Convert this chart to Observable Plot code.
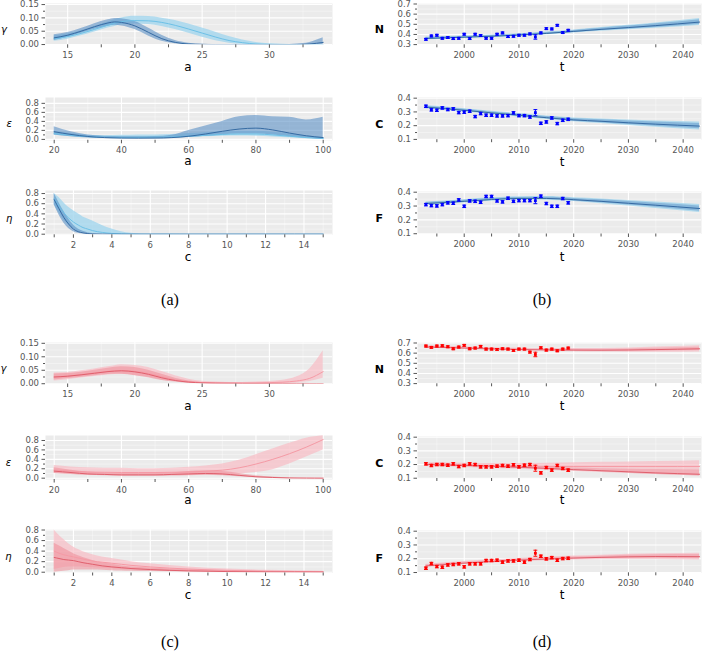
<!DOCTYPE html>
<html><head><meta charset="utf-8">
<script src="https://cdn.jsdelivr.net/npm/d3@7"></script>
<script src="https://cdn.jsdelivr.net/npm/@observablehq/plot@0.6"></script>
<style>
body{margin:0;background:#fff}
#fig{position:relative;width:708px;height:651px;overflow:hidden;font-family:"DejaVu Sans",sans-serif}
#fig svg{position:absolute}
</style></head><body><div id="fig"></div><script>
// ---------------- data ----------------
const gammaAges = [14,15,16,17,18,18.5,19,20,21,22,23,24,25,26,27,28,29,30,31,32,33,34];
const epsAges = [20,25,30,35,40,45,50,55,60,65,70,75,80,85,90,95,100];
const etaC = [1,1.25,1.5,1.75,2,2.25,2.5,2.75,3,3.5,4,4.5,5,6,8,10,12,15];

// (a) blue
const gB_darkMid = [0.025,0.035,0.05,0.067,0.081,0.085,0.083,0.07,0.046,0.022,0.008,0.002,0.0005,0,0,0,0,0,0,0,0.002,0.008];
const gB_darkLo  = [0.015,0.027,0.042,0.057,0.069,0.072,0.07,0.056,0.032,0.012,0.003,0.0005,0,0,0,0,0,0,0,0,0,0];
const gB_darkHi  = [0.037,0.045,0.06,0.078,0.093,0.098,0.097,0.086,0.062,0.035,0.015,0.005,0.001,0,0,0,0,0,0,0.002,0.008,0.025];
const gB_lightMid= [0.022,0.03,0.042,0.057,0.073,0.08,0.086,0.09,0.089,0.083,0.072,0.058,0.043,0.028,0.015,0.007,0.002,0.0005,0,0,0,0];
const gB_lightLo = [0.012,0.02,0.033,0.047,0.062,0.068,0.074,0.077,0.075,0.068,0.056,0.042,0.027,0.014,0.005,0.001,0,0,0,0,0,0];
const gB_lightHi = [0.032,0.04,0.052,0.068,0.085,0.093,0.1,0.106,0.105,0.099,0.09,0.077,0.062,0.046,0.03,0.017,0.008,0.003,0.001,0,0,0];

const eB_darkMid = [0.17,0.11,0.065,0.04,0.03,0.028,0.03,0.04,0.07,0.12,0.18,0.23,0.25,0.21,0.14,0.08,0.04];
const eB_darkLo  = [0.1,0.06,0.03,0.02,0.015,0.013,0.015,0.02,0.04,0.07,0.1,0.12,0.12,0.1,0.06,0.03,0.0];
const eB_darkHi  = [0.28,0.17,0.1,0.07,0.06,0.058,0.062,0.09,0.2,0.3,0.4,0.5,0.53,0.5,0.49,0.43,0.49];
const eB_lightMid= [0.13,0.09,0.06,0.05,0.045,0.045,0.05,0.055,0.07,0.09,0.11,0.12,0.12,0.1,0.07,0.04,0.02];
const eB_lightLo = [0.09,0.06,0.04,0.03,0.03,0.03,0.035,0.04,0.05,0.06,0.07,0.075,0.07,0.055,0.035,0.015,0.0];
const eB_lightHi = [0.18,0.13,0.09,0.08,0.09,0.1,0.1,0.11,0.13,0.15,0.17,0.18,0.18,0.16,0.12,0.08,0.05];

const hB_darkMid = [0.68,0.5,0.33,0.2,0.1,0.05,0.025,0.012,0.005,0.001,0,0,0,0,0,0,0,0];
const hB_darkLo  = [0.58,0.38,0.22,0.11,0.05,0.02,0.008,0.003,0.001,0,0,0,0,0,0,0,0,0];
const hB_darkHi  = [0.8,0.62,0.45,0.3,0.18,0.1,0.06,0.03,0.015,0.004,0.001,0,0,0,0,0,0,0];
const hB_lightMid= [0.7,0.55,0.42,0.32,0.24,0.18,0.13,0.1,0.07,0.035,0.015,0.006,0.002,0,0,0,0,0];
const hB_lightLo = [0.58,0.42,0.28,0.18,0.1,0.06,0.035,0.02,0.01,0.003,0.001,0,0,0,0,0,0,0];
const hB_lightHi = [0.8,0.72,0.62,0.53,0.46,0.4,0.34,0.3,0.26,0.17,0.1,0.05,0.02,0.003,0,0,0,0];

// (c) pink
const gR_darkMid = [0.025,0.028,0.033,0.039,0.045,0.047,0.048,0.044,0.035,0.022,0.012,0.006,0.003,0.002,0.0015,0.001,0.001,0.001,0.001,0.0005,0.0003,0.0002];
const gR_darkLo  = [0.014,0.019,0.024,0.03,0.034,0.035,0.035,0.03,0.022,0.012,0.006,0.002,0.001,0,0,0,0,0,0,0,0,0];
const gR_darkHi  = [0.036,0.038,0.043,0.05,0.057,0.061,0.063,0.06,0.05,0.035,0.02,0.01,0.005,0.003,0.002,0.002,0.002,0.002,0.002,0.0015,0.001,0.001];
const gR_lightMid= [0.025,0.028,0.034,0.04,0.046,0.048,0.049,0.046,0.038,0.026,0.015,0.008,0.004,0.003,0.003,0.003,0.003,0.004,0.006,0.01,0.02,0.045];
const gR_lightLo = [0.01,0.015,0.021,0.027,0.032,0.034,0.035,0.031,0.024,0.014,0.007,0.003,0.001,0,0,0,0,0,0.001,0.003,0.008,0.02];
const gR_lightHi = [0.04,0.042,0.048,0.055,0.063,0.067,0.07,0.068,0.06,0.045,0.03,0.017,0.009,0.006,0.005,0.005,0.006,0.008,0.013,0.025,0.055,0.122];

const eR_darkMid = [0.15,0.12,0.09,0.08,0.07,0.07,0.07,0.08,0.09,0.1,0.09,0.06,0.03,0.015,0.005,0.002,0.0];
const eR_darkLo  = [0.1,0.08,0.06,0.05,0.04,0.04,0.04,0.045,0.05,0.06,0.05,0.03,0.01,0.005,0,0,0];
const eR_darkHi  = [0.22,0.17,0.13,0.11,0.1,0.1,0.1,0.11,0.14,0.15,0.14,0.1,0.05,0.025,0.01,0.004,0.002];
const eR_lightMid= [0.17,0.15,0.13,0.125,0.12,0.12,0.12,0.125,0.13,0.15,0.17,0.22,0.3,0.4,0.52,0.66,0.82];
const eR_lightLo = [0.1,0.085,0.07,0.065,0.06,0.06,0.06,0.06,0.06,0.065,0.07,0.09,0.12,0.18,0.3,0.45,0.6];
const eR_lightHi = [0.27,0.24,0.22,0.21,0.21,0.2,0.2,0.21,0.23,0.26,0.3,0.38,0.5,0.62,0.74,0.85,0.9];

const hR_darkMid = [0.28,0.26,0.24,0.23,0.22,0.2,0.18,0.165,0.15,0.12,0.1,0.085,0.07,0.05,0.025,0.012,0.006,0.002];
const hR_darkLo  = [0.0,0.01,0.02,0.03,0.04,0.04,0.04,0.04,0.04,0.035,0.03,0.025,0.02,0.015,0.005,0.002,0.001,0];
const hR_darkHi  = [0.55,0.5,0.45,0.4,0.35,0.31,0.28,0.25,0.22,0.18,0.15,0.12,0.1,0.08,0.045,0.025,0.012,0.005];
const hR_lightMid= [0.4,0.36,0.33,0.31,0.29,0.27,0.25,0.23,0.21,0.19,0.17,0.15,0.13,0.1,0.06,0.035,0.02,0.01];
const hR_lightLo = [0.05,0.07,0.09,0.1,0.1,0.1,0.095,0.09,0.085,0.075,0.065,0.05,0.04,0.03,0.015,0.006,0.002,0];
const hR_lightHi = [0.8,0.7,0.62,0.54,0.48,0.43,0.39,0.36,0.33,0.29,0.26,0.23,0.2,0.16,0.1,0.06,0.035,0.02];

// observations (b, d)
const years = [1993,1994,1995,1996,1997,1998,1999,2000,2001,2002,2003,2004,2005,2006,2007,2008,2009,2010,2011,2012,2013,2014,2015,2016,2017,2018,2019];
const obsErr = [0.009,0.009,0.009,0.009,0.009,0.009,0.009,0.009,0.009,0.009,0.009,0.009,0.009,0.009,0.009,0.009,0.009,0.009,0.009,0.009,0.022,0.009,0.009,0.009,0.009,0.009,0.009];
const nBlue = [0.352,0.385,0.392,0.362,0.369,0.359,0.362,0.402,0.359,0.402,0.389,0.362,0.362,0.402,0.415,0.379,0.382,0.392,0.392,0.405,0.375,0.415,0.457,0.454,0.49,0.418,0.441];
const cBlue = [0.341,0.315,0.312,0.329,0.317,0.322,0.295,0.298,0.305,0.266,0.288,0.276,0.276,0.271,0.271,0.273,0.293,0.273,0.273,0.263,0.295,0.217,0.227,0.256,0.215,0.239,0.246];
const fBlue = [0.31,0.303,0.301,0.31,0.323,0.32,0.344,0.298,0.337,0.334,0.327,0.369,0.369,0.337,0.33,0.356,0.334,0.339,0.339,0.339,0.339,0.371,0.318,0.298,0.298,0.354,0.323];
const nRed = [0.67,0.657,0.67,0.673,0.663,0.643,0.66,0.677,0.643,0.65,0.667,0.64,0.64,0.637,0.643,0.64,0.627,0.64,0.64,0.61,0.587,0.653,0.63,0.64,0.623,0.64,0.65];
const cRed = [0.205,0.193,0.2,0.2,0.195,0.205,0.185,0.193,0.205,0.2,0.183,0.183,0.183,0.188,0.193,0.188,0.198,0.183,0.195,0.2,0.173,0.139,0.178,0.159,0.193,0.171,0.159];
const fRed = [0.131,0.165,0.143,0.138,0.155,0.158,0.163,0.141,0.163,0.163,0.163,0.187,0.187,0.189,0.175,0.184,0.184,0.189,0.175,0.194,0.24,0.218,0.199,0.208,0.189,0.201,0.203];

// projections (b, d)
const projYears = [1993,2000,2005,2010,2015,2020,2025,2030,2035,2043];
const pNB_mid = [0.36,0.373,0.382,0.394,0.41,0.43,0.45,0.468,0.487,0.522];
const pNB_dLo = [0.352,0.366,0.375,0.387,0.402,0.42,0.438,0.453,0.469,0.498];
const pNB_dHi = [0.368,0.38,0.389,0.401,0.418,0.44,0.462,0.483,0.505,0.546];
const pNB_lLo = [0.346,0.361,0.37,0.382,0.397,0.415,0.432,0.446,0.461,0.488];
const pNB_lHi = [0.374,0.385,0.394,0.406,0.423,0.445,0.468,0.49,0.513,0.556];
const pCB_mid = [0.335,0.312,0.293,0.276,0.258,0.242,0.232,0.221,0.211,0.197];
const pCB_dLo = [0.328,0.305,0.286,0.269,0.25,0.233,0.221,0.208,0.196,0.178];
const pCB_dHi = [0.342,0.319,0.3,0.283,0.266,0.251,0.243,0.234,0.226,0.216];
const pCB_lLo = [0.323,0.3,0.281,0.264,0.245,0.228,0.215,0.201,0.188,0.168];
const pCB_lHi = [0.347,0.324,0.305,0.288,0.271,0.256,0.249,0.241,0.234,0.226];
const pFB_mid = [0.318,0.334,0.347,0.355,0.355,0.346,0.334,0.32,0.306,0.282];
const pFB_dLo = [0.311,0.327,0.34,0.348,0.347,0.337,0.323,0.307,0.291,0.263];
const pFB_dHi = [0.325,0.341,0.354,0.362,0.363,0.355,0.345,0.333,0.321,0.301];
const pFB_lLo = [0.306,0.322,0.335,0.343,0.342,0.332,0.317,0.3,0.283,0.253];
const pFB_lHi = [0.33,0.346,0.359,0.367,0.368,0.36,0.351,0.34,0.329,0.311];
const pNR_mid = [0.66,0.65,0.642,0.636,0.632,0.63,0.629,0.631,0.635,0.643];
const pNR_dLo = [0.654,0.644,0.636,0.63,0.625,0.622,0.62,0.62,0.622,0.627];
const pNR_dHi = [0.666,0.656,0.648,0.642,0.639,0.638,0.638,0.642,0.648,0.659];
const pNR_lLo = [0.648,0.638,0.63,0.623,0.618,0.614,0.611,0.61,0.61,0.612];
const pNR_lHi = [0.672,0.662,0.654,0.649,0.646,0.646,0.647,0.652,0.66,0.674];
const pCR_mid = [0.2,0.193,0.187,0.18,0.172,0.163,0.155,0.147,0.139,0.129];
const pCR_dLo = [0.194,0.187,0.181,0.173,0.164,0.154,0.145,0.136,0.127,0.116];
const pCR_dHi = [0.206,0.2,0.194,0.188,0.182,0.175,0.17,0.166,0.163,0.16];
const pCR_lMid= [0.2,0.195,0.191,0.188,0.186,0.186,0.186,0.186,0.186,0.186];
const pCR_lLo = [0.185,0.178,0.172,0.165,0.158,0.15,0.142,0.135,0.127,0.116];
const pCR_lHi = [0.215,0.21,0.207,0.208,0.21,0.213,0.216,0.219,0.222,0.228];
const pFR_mid = [0.148,0.168,0.18,0.19,0.198,0.205,0.21,0.214,0.216,0.215];
const pFR_dLo = [0.142,0.162,0.174,0.184,0.191,0.197,0.201,0.203,0.203,0.2];
const pFR_dHi = [0.154,0.174,0.186,0.196,0.205,0.213,0.219,0.225,0.229,0.23];
const pFR_lLo = [0.136,0.156,0.168,0.178,0.185,0.19,0.194,0.195,0.195,0.19];
const pFR_lHi = [0.16,0.18,0.192,0.202,0.211,0.22,0.226,0.233,0.237,0.24];

// ticks
const gTicks = [15,20,25,30], gMinor = [17.5,22.5,27.5,32.5];
const eTicks = [20,40,60,80,100], eMinor = [30,50,70,90];
const cTicks = [2,4,6,8,10,12,14], cMinor = [1,3,5,7,9,11,13,15];
const tTicks = [2000,2010,2020,2030,2040], tMinor = [1995,2005,2015,2025,2035];
const gyTicks = [0,0.05,0.10,0.15], gyMinor = [0.025,0.075,0.125];
const eyTicks = [0,0.2,0.4,0.6,0.8], eyMinor = [0.1,0.3,0.5,0.7];
const nyTicks = [0.3,0.4,0.5,0.6,0.7], nyMinor = [0.35,0.45,0.55,0.65];
const cyTicks = [0.1,0.2,0.3,0.4], cyMinor = [0.15,0.25,0.35];

// ---------------- drawing ----------------
const BLUE = {light:"#a3d6ee", lightOp:0.8, dark:"#5a8fc4", darkOp:0.6, lineD:"#356aa3", lineL:"#6cc0e6", pt:"#0000ff"};
const PINK = {light:"#f8bcc4", lightOp:0.7, dark:"#ee8d98", darkOp:0.55, lineD:"#e0606d", lineL:"#f59aa5", pt:"#ff0000"};
const fig = document.getElementById("fig");
const f2 = d3.format(".2f"), f1 = d3.format(".1f"), fi = d3.format("d");

function rows(xs, lo, mid, hi){ return xs.map((x,i)=>({x, lo:lo[i], mid:mid[i], hi:hi[i]})); }

function curveMarks(xs, c, dLo, dMid, dHi, lLo, lMid, lHi){
  const d = rows(xs, dLo, dMid, dHi), l = rows(xs, lLo, lMid, lHi);
  return [
    Plot.areaY(l, {x:"x", y1:"lo", y2:"hi", fill:c.light, fillOpacity:c.lightOp, curve:"monotone-x", clip:true}),
    Plot.areaY(d, {x:"x", y1:"lo", y2:"hi", fill:c.dark, fillOpacity:c.darkOp, curve:"monotone-x", clip:true}),
    Plot.lineY(l, {x:"x", y:"mid", stroke:c.lineL, strokeWidth:1, curve:"monotone-x", clip:true}),
    Plot.lineY(d, {x:"x", y:"mid", stroke:c.lineD, strokeWidth:1, curve:"monotone-x", clip:true})
  ];
}

function tsMarks(c, vals, mid, dLo, dHi, lLo, lHi, lMid){
  const obs = years.map((t,i)=>({t, v:vals[i], e:obsErr[i]}));
  const pr = projYears.map((t,i)=>({t, mid:mid[i], dLo:dLo[i], dHi:dHi[i], lLo:lLo[i], lHi:lHi[i], lMid: lMid ? lMid[i] : null}));
  const m = [
    Plot.areaY(pr, {x:"t", y1:"lLo", y2:"lHi", fill:c.light, fillOpacity:c.lightOp, curve:"monotone-x"}),
    Plot.areaY(pr, {x:"t", y1:"dLo", y2:"dHi", fill:c.dark, fillOpacity:c.darkOp*0.8, curve:"monotone-x"})
  ];
  if (lMid) m.push(Plot.lineY(pr, {x:"t", y:"lMid", stroke:c.lineL, strokeWidth:1, curve:"monotone-x"}));
  m.push(
    Plot.lineY(pr, {x:"t", y:"mid", stroke:c.lineD, strokeWidth:1, curve:"monotone-x"}),
    Plot.ruleX(obs, {x:"t", y1:d=>d.v-d.e, y2:d=>d.v+d.e, stroke:c.pt, strokeWidth:1}),
    Plot.link(obs, {x1:d=>d.t-0.35, x2:d=>d.t+0.35, y1:d=>d.v-d.e, y2:d=>d.v-d.e, stroke:c.pt, strokeWidth:1}),
    Plot.link(obs, {x1:d=>d.t-0.35, x2:d=>d.t+0.35, y1:d=>d.v+d.e, y2:d=>d.v+d.e, stroke:c.pt, strokeWidth:1}),
    Plot.dot(obs, {x:"t", y:"v", symbol:"square", r:1.6, fill:c.pt, stroke:"none"})
  );
  return m;
}

function addPanel(p){
  const mt = 4, mb = 26;
  const left = p.col === 0;
  const ml = left ? 45 : 63, mr = left ? 22 : 7;
  const h = p.frame[1] - p.frame[0];
  const svg = Plot.plot({
    width: 354, height: h + mt + mb,
    marginLeft: ml, marginRight: mr, marginTop: mt, marginBottom: mb,
    x: {domain: p.xdom, axis: null, insetLeft: left ? 8.7 : 8.4, insetRight: left ? 9.3 : 1.9},
    y: {domain: p.ydom, axis: null},
    style: {background:"transparent", fontFamily:"DejaVu Sans, sans-serif", fontSize:"8.5px", color:"#555", overflow:"visible"},
    marks: [
      Plot.frame({fill:"#EBEBEB", stroke:"none"}),
      Plot.ruleX(p.xMinor, {stroke:"#fff", strokeOpacity:0.6, strokeWidth:0.6}),
      Plot.ruleY(p.yMinor, {stroke:"#fff", strokeOpacity:0.6, strokeWidth:0.6}),
      Plot.ruleX(p.xTicks, {stroke:"#fff", strokeWidth:1.1}),
      Plot.ruleY(p.yTicks, {stroke:"#fff", strokeWidth:1.1}),
      ...p.marks,
      Plot.axisX({ticks:p.xTicks, tickSize:3.5, tickPadding:3.5, tickFormat:p.xFmt, label:null}),
      Plot.axisX({ticks:p.xMinor, tickSize:3, tickFormat:()=>"", label:null}),
      Plot.axisY({ticks:p.yTicks, tickSize:3.5, tickPadding:3, tickFormat:p.yFmt, label:null}),
      Plot.axisY({ticks:p.yMinor, tickSize:2, tickFormat:()=>"", label:null})
    ]
  });
  svg.style.left = (left ? 0 : 354) + "px";
  svg.style.top = (p.frame[0] - mt) + "px";
  fig.appendChild(svg);
}

const panels = [
  {col:0, frame:[3,44.3], xdom:[14,34], ydom:[-0.001,0.154], xTicks:gTicks, xMinor:gMinor, yTicks:gyTicks, yMinor:gyMinor, xFmt:fi, yFmt:f2,
   marks:curveMarks(gammaAges, BLUE, gB_darkLo,gB_darkMid,gB_darkHi, gB_lightLo,gB_lightMid,gB_lightHi)},
  {col:0, frame:[96.5,139.3], xdom:[20,100], ydom:[-0.02,0.93], xTicks:eTicks, xMinor:eMinor, yTicks:eyTicks, yMinor:eyMinor, xFmt:fi, yFmt:f1,
   marks:curveMarks(epsAges, BLUE, eB_darkLo,eB_darkMid,eB_darkHi, eB_lightLo,eB_lightMid,eB_lightHi)},
  {col:0, frame:[190,234.3], xdom:[1,15], ydom:[-0.012,0.86], xTicks:cTicks, xMinor:cMinor, yTicks:eyTicks, yMinor:eyMinor, xFmt:fi, yFmt:f1,
   marks:curveMarks(etaC, BLUE, hB_darkLo,hB_darkMid,hB_darkHi, hB_lightLo,hB_lightMid,hB_lightHi)},
  {col:0, frame:[341.5,383], xdom:[14,34], ydom:[-0.001,0.153], xTicks:gTicks, xMinor:gMinor, yTicks:gyTicks, yMinor:gyMinor, xFmt:fi, yFmt:f2,
   marks:curveMarks(gammaAges, PINK, gR_darkLo,gR_darkMid,gR_darkHi, gR_lightLo,gR_lightMid,gR_lightHi)},
  {col:0, frame:[435,479], xdom:[20,100], ydom:[-0.028,0.906], xTicks:eTicks, xMinor:eMinor, yTicks:eyTicks, yMinor:eyMinor, xFmt:fi, yFmt:f1,
   marks:curveMarks(epsAges, PINK, eR_darkLo,eR_darkMid,eR_darkHi, eR_lightLo,eR_lightMid,eR_lightHi)},
  {col:0, frame:[529,572.5], xdom:[1,15], ydom:[-0.015,0.81], xTicks:cTicks, xMinor:cMinor, yTicks:eyTicks, yMinor:eyMinor, xFmt:fi, yFmt:f1,
   marks:curveMarks(etaC, PINK, hR_darkLo,hR_darkMid,hR_darkHi, hR_lightLo,hR_lightMid,hR_lightHi)},
  {col:1, frame:[3,44.3], xdom:[1993,2043], ydom:[0.298,0.705], xTicks:tTicks, xMinor:tMinor, yTicks:nyTicks, yMinor:nyMinor, xFmt:fi, yFmt:f1,
   marks:tsMarks(BLUE, nBlue, pNB_mid, pNB_dLo, pNB_dHi, pNB_lLo, pNB_lHi)},
  {col:1, frame:[97,139.2], xdom:[1993,2043], ydom:[0.098,0.405], xTicks:tTicks, xMinor:tMinor, yTicks:cyTicks, yMinor:cyMinor, xFmt:fi, yFmt:f1,
   marks:tsMarks(BLUE, cBlue, pCB_mid, pCB_dLo, pCB_dHi, pCB_lLo, pCB_lHi)},
  {col:1, frame:[191,233.5], xdom:[1993,2043], ydom:[0.098,0.405], xTicks:tTicks, xMinor:tMinor, yTicks:cyTicks, yMinor:cyMinor, xFmt:fi, yFmt:f1,
   marks:tsMarks(BLUE, fBlue, pFB_mid, pFB_dLo, pFB_dHi, pFB_lLo, pFB_lHi)},
  {col:1, frame:[342,383.3], xdom:[1993,2043], ydom:[0.298,0.705], xTicks:tTicks, xMinor:tMinor, yTicks:nyTicks, yMinor:nyMinor, xFmt:fi, yFmt:f1,
   marks:tsMarks(PINK, nRed, pNR_mid, pNR_dLo, pNR_dHi, pNR_lLo, pNR_lHi)},
  {col:1, frame:[436,478], xdom:[1993,2043], ydom:[0.098,0.405], xTicks:tTicks, xMinor:tMinor, yTicks:cyTicks, yMinor:cyMinor, xFmt:fi, yFmt:f1,
   marks:tsMarks(PINK, cRed, pCR_mid, pCR_dLo, pCR_dHi, pCR_lLo, pCR_lHi, pCR_lMid)},
  {col:1, frame:[530,572.3], xdom:[1993,2043], ydom:[0.098,0.405], xTicks:tTicks, xMinor:tMinor, yTicks:cyTicks, yMinor:cyMinor, xFmt:fi, yFmt:f1,
   marks:tsMarks(PINK, fRed, pFR_mid, pFR_dLo, pFR_dHi, pFR_lLo, pFR_lHi)}
];
panels.forEach(addPanel);

// ---------------- text labels ----------------
const labels = [
  {t:"a", x:188, y:71, s:12}, {t:"a", x:188, y:165, s:12}, {t:"c", x:188, y:261, s:12},
  {t:"a", x:188, y:410, s:12}, {t:"a", x:188, y:504, s:12}, {t:"c", x:188, y:598.5, s:12},
  {t:"t", x:562, y:71, s:12}, {t:"t", x:562, y:165.5, s:12}, {t:"t", x:562, y:261, s:12},
  {t:"t", x:562, y:410, s:12}, {t:"t", x:562, y:504, s:12}, {t:"t", x:562, y:599, s:12},
  {t:"γ", x:4, y:33, s:10, it:true}, {t:"ε", x:9.2, y:127.3, s:10, it:true}, {t:"η", x:9.2, y:222.4, s:10, it:true},
  {t:"γ", x:3.5, y:371.5, s:10, it:true}, {t:"ε", x:8.5, y:466, s:10, it:true}, {t:"η", x:8.5, y:559.7, s:10, it:true},
  {t:"N", x:379.3, y:33.3, s:11, b:true}, {t:"C", x:379.3, y:128.3, s:11, b:true}, {t:"F", x:379.3, y:222, s:11, b:true},
  {t:"N", x:379.3, y:372.7, s:11, b:true}, {t:"C", x:379.3, y:467.3, s:11, b:true}, {t:"F", x:379.3, y:562, s:11, b:true},
  {t:"(a)", x:170, y:305.3, s:16, serif:true}, {t:"(b)", x:542, y:305.3, s:16, serif:true},
  {t:"(c)", x:170, y:647, s:16, serif:true}, {t:"(d)", x:542, y:647, s:16, serif:true}
];
const ov = d3.create("svg").attr("width",708).attr("height",651).style("left","0px").style("top","0px");
ov.selectAll("text").data(labels).join("text")
  .attr("x", d=>d.x).attr("y", d=>d.y).attr("text-anchor","middle")
  .style("font-family", d=>d.serif ? "'Liberation Serif', 'Times New Roman', serif" : "'DejaVu Sans', sans-serif")
  .attr("font-size", d=>d.s).attr("font-style", d=>d.it ? "italic" : "normal")
  .attr("font-weight", d=>d.b ? "bold" : "normal").attr("fill","#000").text(d=>d.t);
fig.appendChild(ov.node());
</script></body></html>
